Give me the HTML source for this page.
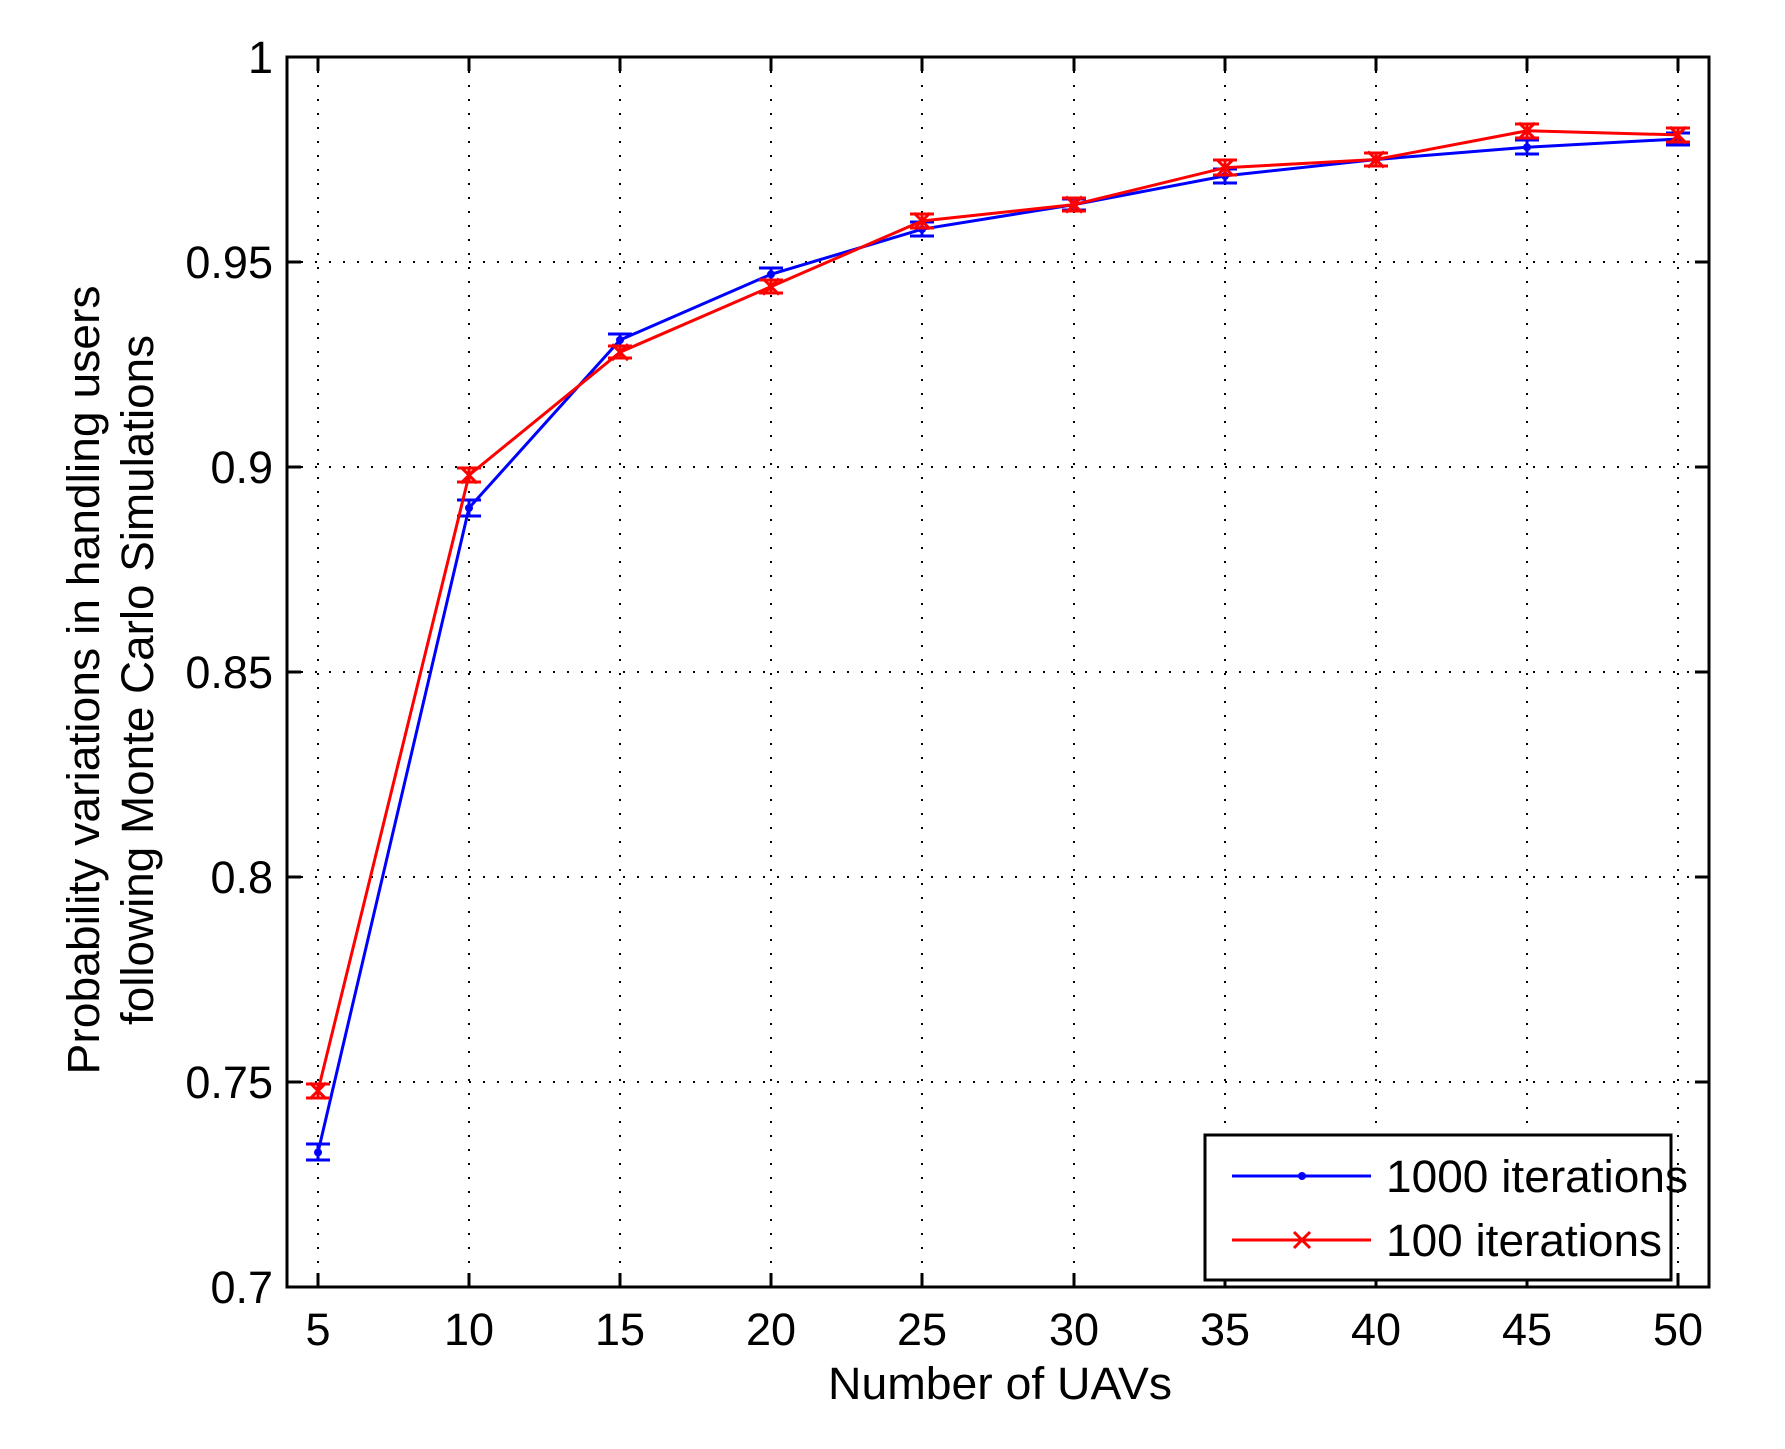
<!DOCTYPE html>
<html><head><meta charset="utf-8"><style>html,body{margin:0;padding:0;background:#fff}svg{display:block}text{font-family:"Liberation Sans",Arial,sans-serif;fill:#000}</style></head>
<body>
<svg width="1785" height="1449" viewBox="0 0 1785 1449" xmlns="http://www.w3.org/2000/svg">
<rect width="1785" height="1449" fill="#fff"/>
<g stroke="#000" stroke-width="2" stroke-dasharray="2,12">
<line x1="318" y1="57" x2="318" y2="1287"/><line x1="469" y1="57" x2="469" y2="1287"/><line x1="620" y1="57" x2="620" y2="1287"/><line x1="771" y1="57" x2="771" y2="1287"/><line x1="922" y1="57" x2="922" y2="1287"/><line x1="1074" y1="57" x2="1074" y2="1287"/><line x1="1225" y1="57" x2="1225" y2="1287"/><line x1="1376" y1="57" x2="1376" y2="1287"/><line x1="1527" y1="57" x2="1527" y2="1287"/><line x1="1678" y1="57" x2="1678" y2="1287"/>
<line x1="287" y1="262" x2="1709" y2="262"/><line x1="287" y1="467" x2="1709" y2="467"/><line x1="287" y1="672" x2="1709" y2="672"/><line x1="287" y1="877" x2="1709" y2="877"/><line x1="287" y1="1082" x2="1709" y2="1082"/>
</g>
<g stroke="#000" stroke-width="3">
<path d="M318 1287v-14M469 1287v-14M620 1287v-14M771 1287v-14M922 1287v-14M1074 1287v-14M1225 1287v-14M1376 1287v-14M1527 1287v-14M1678 1287v-14"/>
<path d="M318 57v14M469 57v14M620 57v14M771 57v14M922 57v14M1074 57v14M1225 57v14M1376 57v14M1527 57v14M1678 57v14"/>
<path d="M287 262h14M287 467h14M287 672h14M287 877h14M287 1082h14M1709 262h-14M1709 467h-14M1709 672h-14M1709 877h-14M1709 1082h-14"/>
<rect x="287" y="57" width="1422" height="1230" fill="none"/>
</g>
<g font-size="45" text-anchor="end">
<text x="273" y="73">1</text><text x="273" y="278">0.95</text><text x="273" y="483">0.9</text><text x="273" y="688">0.85</text><text x="273" y="893">0.8</text><text x="273" y="1098">0.75</text><text x="273" y="1303">0.7</text>
</g>
<g font-size="45" text-anchor="middle">
<text x="318" y="1345">5</text><text x="469" y="1345">10</text><text x="620" y="1345">15</text><text x="771" y="1345">20</text><text x="922" y="1345">25</text><text x="1074" y="1345">30</text><text x="1225" y="1345">35</text><text x="1376" y="1345">40</text><text x="1527" y="1345">45</text><text x="1678" y="1345">50</text>
<text x="1000" y="1399" textLength="344" lengthAdjust="spacingAndGlyphs">Number of UAVs</text>
<text transform="translate(99,680) rotate(-90)" textLength="789" lengthAdjust="spacingAndGlyphs">Probability variations in handling users</text>
<text transform="translate(153,680) rotate(-90)" textLength="690" lengthAdjust="spacingAndGlyphs">following Monte Carlo Simulations</text>
</g>
<g stroke="#0000ff" stroke-width="3" fill="none">
<polyline points="318,1152.4 469,508 620,340 771,274.3 922,229.2 1074,204.6 1225,175.9 1376,159.5 1527,147.2 1678,139"/>
<path d="M318 1144v16M306 1144h24M306 1160h24 M469 500v16M457 500h24M457 516h24 M620 334v12M608 334h24M608 346h24 M771 268v12M759 268h24M759 280h24 M922 222v14M910 222h24M910 236h24 M1074 199v11M1062 199h24M1062 210h24 M1225 169v14M1213 169h24M1213 183h24 M1376 153v13M1364 153h24M1364 166h24 M1527 140v14M1515 140h24M1515 154h24 M1678 133v12M1666 133h24M1666 145h24"/>
</g>
<g fill="#0000ff">
<circle cx="318" cy="1152.4" r="4"/><circle cx="469" cy="508" r="4"/><circle cx="620" cy="340" r="4"/><circle cx="771" cy="274.3" r="4"/><circle cx="922" cy="229.2" r="4"/><circle cx="1074" cy="204.6" r="4"/><circle cx="1225" cy="175.9" r="4"/><circle cx="1376" cy="159.5" r="4"/><circle cx="1527" cy="147.2" r="4"/><circle cx="1678" cy="139" r="4"/>
</g>
<g stroke="#ff0000" stroke-width="3" fill="none">
<polyline points="318,1090.8 469,475.2 620,352.2 771,286.6 922,221 1074,204.6 1225,167.7 1376,159.5 1527,130.8 1678,134.9"/>
<path d="M318 1084v14M306 1084h24M306 1098h24 M469 468v14M457 468h24M457 482h24 M620 346v12M608 346h24M608 358h24 M771 280v13M759 280h24M759 293h24 M922 214v14M910 214h24M910 228h24 M1074 198v13M1062 198h24M1062 211h24 M1225 160v15M1213 160h24M1213 175h24 M1376 153v13M1364 153h24M1364 166h24 M1527 124v14M1515 124h24M1515 138h24 M1678 128v14M1666 128h24M1666 142h24"/>
<path d="M310 1082.8l16 16M310 1098.8l16-16 M461 467.2l16 16M461 483.2l16-16 M612 344.2l16 16M612 360.2l16-16 M763 278.6l16 16M763 294.6l16-16 M914 213l16 16M914 229l16-16 M1066 196.6l16 16M1066 212.6l16-16 M1217 159.7l16 16M1217 175.7l16-16 M1368 151.5l16 16M1368 167.5l16-16 M1519 122.8l16 16M1519 138.8l16-16 M1670 126.9l16 16M1670 142.9l16-16"/>
</g>
<rect x="1205" y="1135" width="466" height="145" fill="#fff" stroke="#000" stroke-width="3"/>
<line x1="1232" y1="1176" x2="1371" y2="1176" stroke="#0000ff" stroke-width="3"/>
<circle cx="1302" cy="1176" r="4" fill="#0000ff"/>
<line x1="1232" y1="1240" x2="1371" y2="1240" stroke="#ff0000" stroke-width="3"/>
<path d="M1294 1232l16 16M1294 1248l16-16" stroke="#ff0000" stroke-width="3"/>
<text x="1386" y="1192" font-size="45" textLength="302" lengthAdjust="spacingAndGlyphs">1000 iterations</text>
<text x="1386" y="1256" font-size="45" textLength="276" lengthAdjust="spacingAndGlyphs">100 iterations</text>
</svg>
</body></html>
